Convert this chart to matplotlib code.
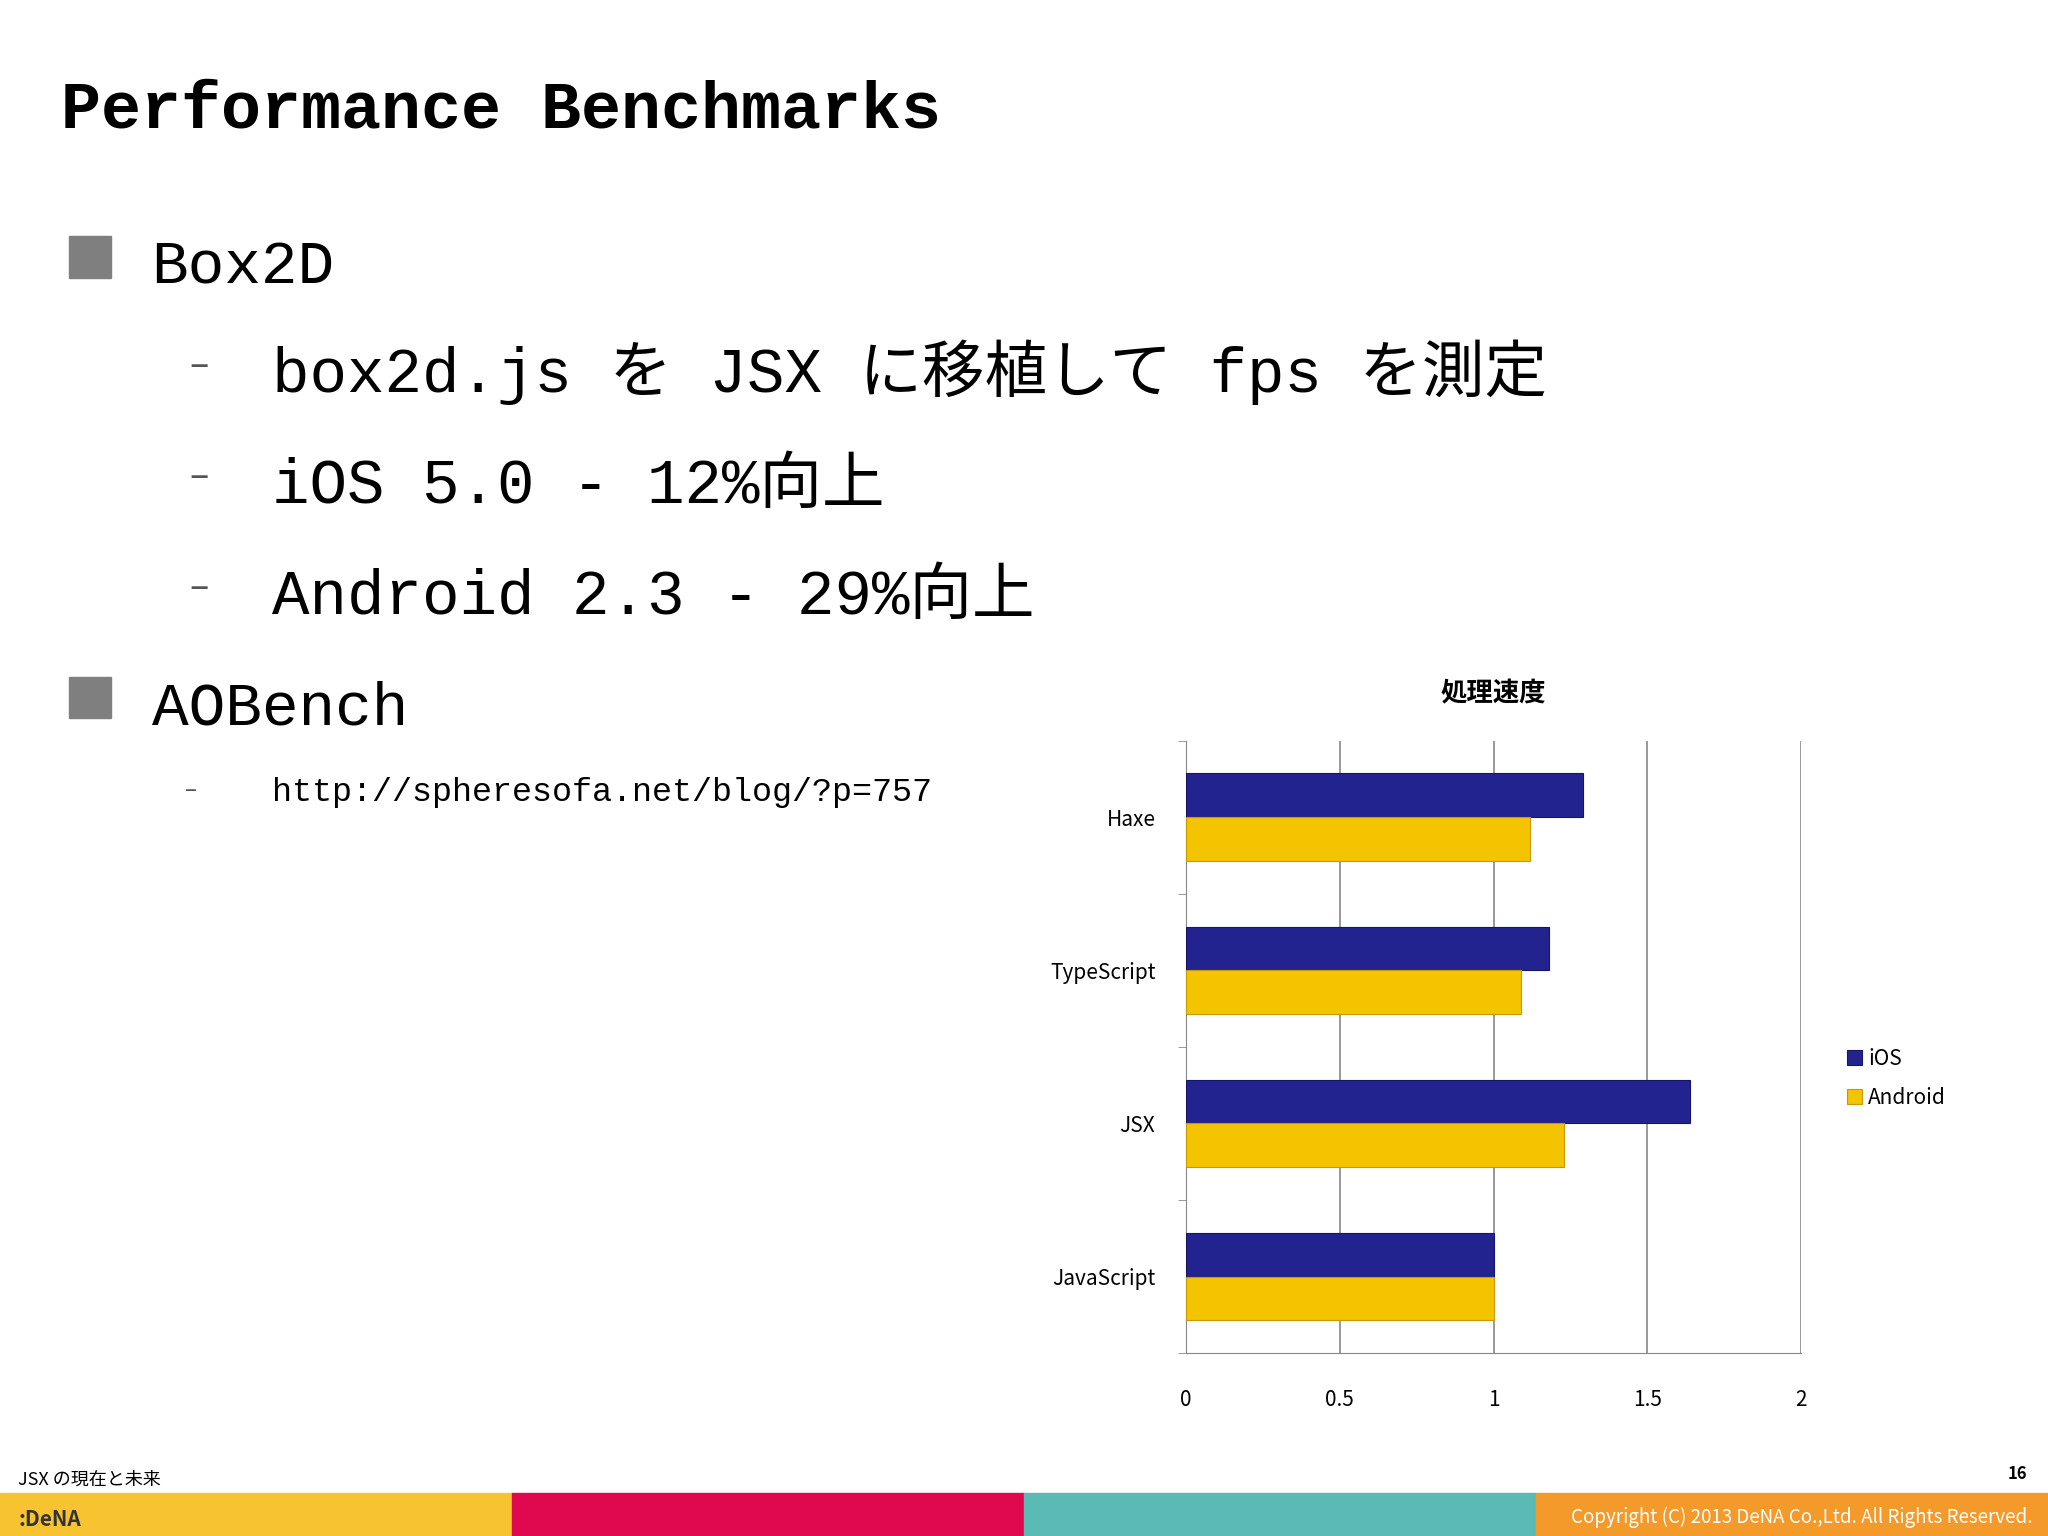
import matplotlib
matplotlib.use('Agg')
import matplotlib.pyplot as plt
import matplotlib.patches as mp
import numpy as np

categories = ['JavaScript', 'JSX', 'TypeScript', 'Haxe']
ios = [1.0, 1.64, 1.18, 1.29]
android = [1.0, 1.23, 1.09, 1.12]
xticks = [0, 0.5, 1, 1.5, 2]
xticklabels = ['0', '0.5', '1', '1.5', '2']

W, H = 1568, 1176
fig = plt.figure(figsize=(20.48, 15.36), dpi=100)
jp = ['Noto Sans CJK JP', 'DejaVu Sans']
mono = ['Liberation Mono', 'Noto Sans CJK JP']

def fx(x): return x / W
def fy(y): return 1 - y / H

fig.text(fx(47), fy(98), 'Performance Benchmarks', family=mono, fontsize=48, fontweight='bold', va='baseline')
for yy in (181, 518):
    fig.patches.append(mp.Rectangle((fx(53), fy(yy + 32)), 32 / W, 32 / H, transform=fig.transFigure, color='#7f7f7f'))
fig.text(fx(116), fy(217), 'Box2D', family=mono, fontsize=44, va='baseline')
fig.text(fx(116), fy(555), 'AOBench', family=mono, fontsize=44, va='baseline')
subs = [(300, 'box2d.js を JSX に移植して fps を測定'), (385, 'iOS 5.0 - 12%向上'), (470, 'Android 2.3 - 29%向上')]
for yy, t in subs:
    fig.text(fx(145), fy(yy - 12), '–', family=jp, fontsize=26, va='baseline', color='#555')
    fig.text(fx(208), fy(yy), t, family=mono, fontsize=45, va='baseline')
fig.text(fx(142), fy(610), '–', family=jp, fontsize=16, va='baseline', color='#555')
fig.text(fx(208), fy(613), 'http://spheresofa.net/blog/?p=757', family=mono, fontsize=24, va='baseline')

ax = fig.add_axes([fx(908), fy(1036), (1379 - 908) / W, (1036 - 567) / H])
y = np.arange(len(categories))
h = 0.285
ax.barh(y + h / 2, ios, height=h, color='#23238f', edgecolor='#15156a', linewidth=0.8, label='iOS', zorder=3)
ax.barh(y - h / 2, android, height=h, color='#f4c400', edgecolor='#c89a00', linewidth=0.8, label='Android', zorder=3)
ax.set_xlim(0, 2)
ax.set_ylim(-0.5, 3.5)
ax.set_xticks(xticks)
ax.set_xticklabels(xticklabels, family=jp, fontsize=15)
ax.set_yticks(y)
ax.set_yticklabels(categories, family=jp, fontsize=15)
ax.set_yticks(np.arange(-0.5, 4, 1), minor=True)
ax.tick_params(axis='y', which='major', length=0, pad=22)
ax.tick_params(axis='y', which='minor', length=6, color='#888')
ax.tick_params(axis='x', length=0, pad=26)
ax.grid(axis='x', color='#888', linewidth=1.2, zorder=0)
ax.spines['top'].set_visible(False)
ax.spines['right'].set_visible(False)
ax.spines['left'].set_color('#888')
ax.spines['bottom'].set_color('#888')
ax.set_title('処理速度', family=jp, fontsize=19, pad=28, fontweight='bold')
handles, labels = ax.get_legend_handles_labels()
fig.legend(handles, labels, loc='upper left', bbox_to_anchor=(fx(1400), fy(788)), frameon=False,
           prop={'family': jp, 'size': 15}, handlelength=0.7, handleheight=0.7, handletextpad=0.3, labelspacing=0.8)

fig.text(fx(14), fy(1137), 'JSX の現在と未来', family=jp, fontsize=13, va='baseline')
fig.text(fx(1552), fy(1132), '16', family=jp, fontsize=12, va='baseline', ha='right', fontweight='bold')
cols = ['#f7c331', '#e0094f', '#5bbbb4', '#f39a2b']
for i, c in enumerate(cols):
    fig.patches.append(mp.Rectangle((i * 0.25, 0), 0.25, 33 / H, transform=fig.transFigure, color=c))
fig.text(fx(14), fy(1168), ':DeNA', family=jp, fontsize=15, fontweight='bold', va='baseline', color='#333')
fig.text(fx(1556), fy(1166), 'Copyright (C) 2013 DeNA Co.,Ltd. All Rights Reserved.', family=jp, fontsize=13.5,
         ha='right', va='baseline', color='white')
fig.savefig('out.png', dpi=100)
